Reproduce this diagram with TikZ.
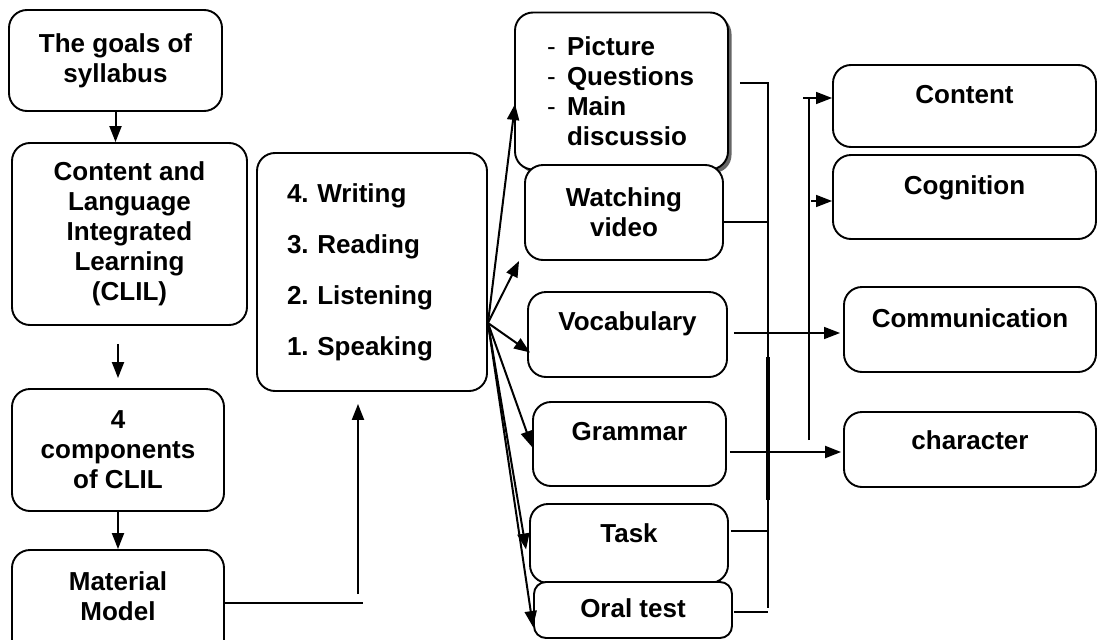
\documentclass[tikz,border=0pt]{standalone}
\usepackage{fontspec}
\setmainfont{Liberation Sans}
\usetikzlibrary{arrows.meta,calc,shadows}
\newcommand{\listdash}{\makebox[20pt][l]{\mdseries -}}
\frenchspacing

\begin{document}
\begin{tikzpicture}[x=1pt,y=-1pt,
  box/.style={draw,line width=1.9pt,rounded corners=18pt,fill=white,align=center,
    font=\fontsize{26}{30}\selectfont\bfseries},
  topbox/.style={box,inner sep=0pt},
  arr/.style={-{Triangle[length=16pt,width=12pt]},line width=2pt},
  thinline/.style={line width=1.5pt}]

\useasboundingbox (0,0) rectangle (1098,640);
\clip (0,0) rectangle (1098,640);

\node[box,minimum width=213pt,minimum height=101pt] (goals) at (115.5,60.5) {The goals of\\syllabus};
\node[box,minimum width=235pt,minimum height=182pt] (clil) at (129.5,234) {Content and\\Language\\Integrated\\Learning\\(CLIL)};
\node[box,minimum width=212pt,minimum height=122pt] (comp) at (118,450) {4\\components\\of CLIL};
\node[topbox,minimum width=212pt,text height=70pt,text depth=40pt] (material) at (118,605) {Material\\Model};
\node[box,minimum height=238pt,text width=170pt,inner xsep=30pt,align=left] (skills) at (372,272) {4. Writing\\[21pt]3. Reading\\[21pt]2. Listening\\[21pt]1. Speaking};

\node[box,drop shadow={shadow xshift=3.5pt,shadow yshift=-3.5pt,fill=black!60,opacity=1},
  minimum height=157pt,text width=149pt,inner xsep=32pt,align=left] (picture) at (621.5,91)
  {\listdash Picture\\\listdash Questions\\\listdash Main\\\hspace*{20pt}discussio};
\node[box,minimum width=198pt,minimum height=95pt] (video) at (624,212.5) {Watching\\video};
\node[topbox,minimum width=199pt,text height=38pt,text depth=47pt] (vocab) at (627.5,334.5) {Vocabulary};
\node[topbox,minimum width=193pt,text height=38pt,text depth=46pt] (grammar) at (629.5,444) {Grammar};
\node[topbox,minimum width=198pt,text height=38pt,text depth=41pt] (task) at (629,543.5) {Task};
\node[topbox,rounded corners=12pt,minimum width=198pt,text height=35pt,text depth=21pt] (oral) at (633,610) {Oral test};

\node[topbox,minimum width=263pt,text height=38pt,text depth=44pt] (content) at (964.5,106) {Content};
\node[topbox,minimum width=263pt,text height=39pt,text depth=45pt] (cognition) at (964.5,197) {Cognition};
\node[topbox,minimum width=252pt,text height=40pt,text depth=45pt] (communication) at (970,329.5) {Communication};
\node[topbox,minimum width=252pt,text height=37pt,text depth=38pt] (character) at (970,449.5) {character};

\draw[arr] (goals.south) -- (goals.south |- clil.north);
\draw[arr,shorten <=18pt,shorten >=10pt] (clil.south -| comp.north) -- (comp.north);
\draw[arr] (comp.south) -- (material.north);

\coordinate (rise) at (358,594);
\draw[thinline] (material.east |- 0,603) -- ++(138,0);
\draw[arr,shorten >=12pt] (rise) -- (rise |- skills.south);

\coordinate (fan) at ($(skills.east)+(0,51)$);
\draw[arr] (fan) -- ($(picture.west)+(1,13)$);
\draw[arr] (fan) -- ($(video.south west)+(-5,0)$);
\draw[arr] (fan) -- ($(vocab.west)+(3,18)$);
\draw[arr] (fan) -- ($(grammar.west)+(0,3)$);
\draw[arr] (fan) -- ($(task.west)+(-3,6)$);
\draw[arr] (fan) -- ($(oral.west)+(0,17)$);

\coordinate (busa top) at (768,83);
\coordinate (busa end) at (768,608);
\draw[thinline] ($(picture.east)+(11,-8)$) -- (busa top) -- (busa end);
\draw[thinline] ($(video.east)+(0,9.5)$) coordinate (v) -- (v -| busa top);
\draw[thinline] ($(task.east)+(2,-12.5)$) coordinate (t) -- (t -| busa top);
\draw[thinline] ($(oral.east)+(1,2)$) coordinate (o) -- (o -| busa top);
\draw[line width=3.5pt] (768,357) -- (768,500);

\draw[arr,thinline,shorten >=3pt] ($(vocab.east)+(6,-1.5)$) coordinate (vc) -- (vc -| communication.west);
\draw[arr,shorten >=2pt] ($(grammar.east)+(3,8)$) coordinate (gc) -- (gc -| character.west);

\coordinate (busb top) at (809,98);
\coordinate (busb end) at (809,440);
\draw[thinline] (busb end) -- (busb top);
\draw[arr,thinline] ($(busb top)+(-6,0)$) -- (busb top -| content.west);
\draw[arr,thinline] ($(cognition.west)+(-21,4)$) -- ($(cognition.west)+(0,4)$);
\end{tikzpicture}
\end{document}
